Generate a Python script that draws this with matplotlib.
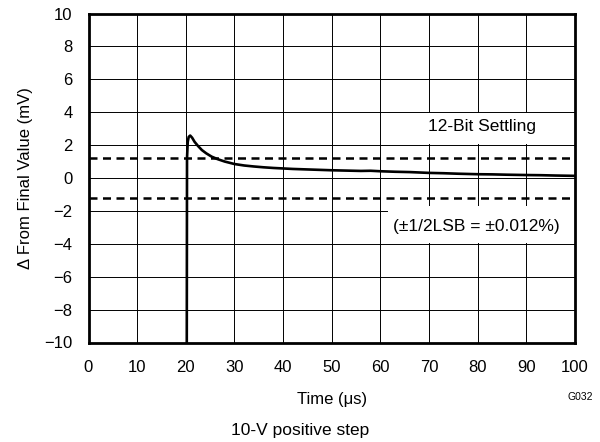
import matplotlib
matplotlib.use('Agg')
import matplotlib.pyplot as plt
from matplotlib.patches import Rectangle

plt.rcParams['font.family'] = ['Liberation Sans', 'DejaVu Sans']
plt.rcParams['axes.unicode_minus'] = True

# settling curve (time in us, delta in mV)
time_us = [20.2, 20.25, 20.4, 20.6, 20.9, 21.3, 21.8, 22.5, 23.3, 24.2, 25.3,
           26.5, 28, 30, 32, 34, 36, 38, 40, 42, 44, 46, 48, 50, 53, 56, 58,
           60, 63, 66, 70, 73, 76, 80, 83, 86, 90, 93, 96, 98, 100]
delta_mv = [-10, 1.2, 2.2, 2.5, 2.58, 2.45, 2.2, 1.95, 1.7, 1.5, 1.3,
            1.15, 1.0, 0.85, 0.76, 0.7, 0.65, 0.61, 0.58, 0.55, 0.53, 0.51, 0.49, 0.47, 0.45, 0.43, 0.44,
            0.41, 0.38, 0.36, 0.31, 0.29, 0.26, 0.23, 0.22, 0.2, 0.18, 0.17, 0.15, 0.14, 0.13]
# 12-bit limits: +-1/2 LSB
band_mv = [1.2, -1.2]

x_ticks = list(range(0, 101, 10))
y_ticks = list(range(-10, 11, 2))

fig = plt.figure(figsize=(6, 4.42), dpi=100)
ax = fig.add_axes([88.5 / 600, 1 - 342.5 / 442, 486.5 / 600, 329 / 442])

ax.plot(time_us, delta_mv, color='black', lw=1.9, zorder=4)
for b in band_mv:
    ax.axhline(b, color='black', lw=1.8, ls=(0, (3.2, 2.2)), zorder=3)

ax.set_xlim(0, 100)
ax.set_ylim(-10, 10)
ax.set_xticks(x_ticks)
ax.set_yticks(y_ticks)
ax.grid(True, color='black', lw=0.7)
ax.tick_params(length=0, labelsize=12, colors='black')
ax.tick_params(axis='x', pad=12.5)
ax.tick_params(axis='y', pad=11.5)
for s in ax.spines.values():
    s.set_linewidth(2)
    s.set_zorder(6)

ax.set_xlabel('Time (\u03bcs)', fontsize=12, labelpad=12)
ax.set_ylabel('\u0394 From Final Value (mV)', fontsize=12, labelpad=8)

# white boxes that blank the grid behind the notes
ax.add_patch(Rectangle((68, 2.05), 32, 1.88, facecolor='white', edgecolor='none', zorder=2.5))
ax.add_patch(Rectangle((61.5, -3.93), 38.5, 2.2, facecolor='white', edgecolor='none', zorder=2.5))
ax.text(80.9, 3.15, '12-Bit Settling', fontsize=12.5, ha='center', va='center', zorder=5)
ax.text(79.7, -2.95, '(\u00b11/2LSB = \u00b10.012%)', fontsize=12.5, ha='center', va='center', zorder=5)

fig.text(580 / 600, 1 - 397 / 442, 'G032', fontsize=7.5, ha='center', va='center')
fig.text(300 / 600, 1 - 430 / 442, '10-V positive step', fontsize=12.5, ha='center', va='center')

fig.savefig('out.png', dpi=100)
